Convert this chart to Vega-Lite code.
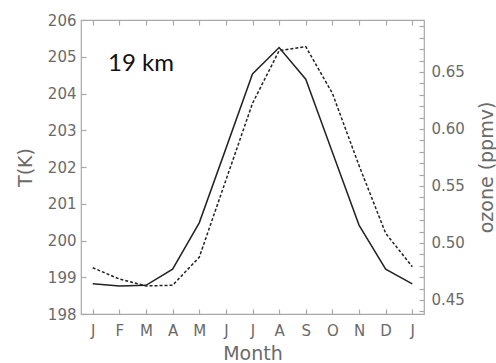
{
  "$schema": "https://vega.github.io/schema/vega-lite/v6.json",
  "width": 343,
  "height": 294,
  "autosize": "none",
  "padding": {"left": 81, "top": 20, "right": 72, "bottom": 49},
  "background": "white",
  "config": {
    "view": {"stroke": "#a8a8a8", "strokeWidth": 1.2},
    "axis": {
      "domain": false,
      "grid": false,
      "labelOverlap": false,
      "labelBound": false,
      "labelFlush": false,
      "tickColor": "#a8a8a8",
      "tickWidth": 1.2,
      "labelFont": "DejaVu Sans",
      "labelFontSize": 15,
      "labelColor": "#6a6a6a",
      "titleFont": "DejaVu Sans",
      "titleFontSize": 19,
      "titleFontWeight": "normal",
      "titleColor": "#6a6a6a"
    }
  },
  "datasets": {
    "monthly": [
      {"m": 0, "T": 198.82, "O3": 0.4783},
      {"m": 1, "T": 198.76, "O3": 0.4684},
      {"m": 2, "T": 198.78, "O3": 0.4623},
      {"m": 3, "T": 199.22, "O3": 0.4629},
      {"m": 4, "T": 200.48, "O3": 0.4875},
      {"m": 5, "T": 202.5, "O3": 0.555},
      {"m": 6, "T": 204.53, "O3": 0.6225},
      {"m": 7, "T": 205.25, "O3": 0.6687},
      {"m": 8, "T": 204.39, "O3": 0.6722},
      {"m": 9, "T": 202.4, "O3": 0.6313},
      {"m": 10, "T": 200.42, "O3": 0.568},
      {"m": 11, "T": 199.22, "O3": 0.5085},
      {"m": 12, "T": 198.82, "O3": 0.4792}
    ]
  },
  "resolve": {"scale": {"y": "independent"}, "axis": {"x": "independent"}},
  "layer": [
    {
      "encoding": {
        "x": {
          "field": "m",
          "type": "quantitative",
          "scale": {"domain": [-0.44, 12.44], "nice": false, "zero": false},
          "axis": {
            "orient": "bottom",
            "title": "Month",
            "values": [0, 1, 2, 3, 4, 5, 6, 7, 8, 9, 10, 11, 12],
            "labelExpr": "['J','F','M','A','M','J','J','A','S','O','N','D','J'][datum.value]",
            "labelOverlap": false,
            "tickSize": -5,
            "labelPadding": 14,
            "titlePadding": 6
          }
        },
        "y": {
          "field": "T",
          "type": "quantitative",
          "scale": {"domain": [198, 206], "nice": false, "zero": false},
          "axis": {
            "orient": "left",
            "title": "T(K)",
            "values": [198, 199, 200, 201, 202, 203, 204, 205, 206],
            "labelOverlap": false,
            "tickSize": -5,
            "labelPadding": 10,
            "titlePadding": 12
          }
        }
      },
      "layer": [
        {
          "data": {"name": "monthly"},
          "mark": {"type": "line", "color": "#222222", "strokeWidth": 1.5}
        },
        {
          "data": {"values": [{"m": 0.575, "T": 204.62, "label": "19 km"}]},
          "mark": {"type": "text", "align": "left", "baseline": "alphabetic", "font": "Lato", "fontSize": 24, "color": "#111111"},
          "encoding": {"text": {"field": "label"}}
        }
      ]
    },
    {
      "data": {"name": "monthly"},
      "mark": {"type": "line", "color": "#222222", "strokeWidth": 1.5, "strokeDash": [3, 2]},
      "encoding": {
        "x": {
          "field": "m",
          "type": "quantitative",
          "axis": {
            "orient": "top",
            "title": null,
            "labels": false,
            "values": [0, 1, 2, 3, 4, 5, 6, 7, 8, 9, 10, 11, 12],
            "tickSize": -5
          }
        },
        "y": {
          "field": "O3",
          "type": "quantitative",
          "scale": {"domain": [0.4377, 0.6956], "nice": false, "zero": false},
          "axis": {
            "orient": "right",
            "title": "ozone (ppmv)",
            "titleAngle": 270,
            "values": [0.44, 0.45, 0.46, 0.47, 0.48, 0.49, 0.5, 0.51, 0.52, 0.53, 0.54, 0.55, 0.56, 0.57, 0.58, 0.59, 0.6, 0.61, 0.62, 0.63, 0.64, 0.65, 0.66, 0.67, 0.68, 0.69],
            "labelExpr": "abs(datum.value * 20 - round(datum.value * 20)) < 0.001 ? format(datum.value, '.2f') : ''",
            "labelOverlap": false,
            "tickSize": -5,
            "labelPadding": 12,
            "titlePadding": 32
          }
        }
      }
    }
  ]
}
